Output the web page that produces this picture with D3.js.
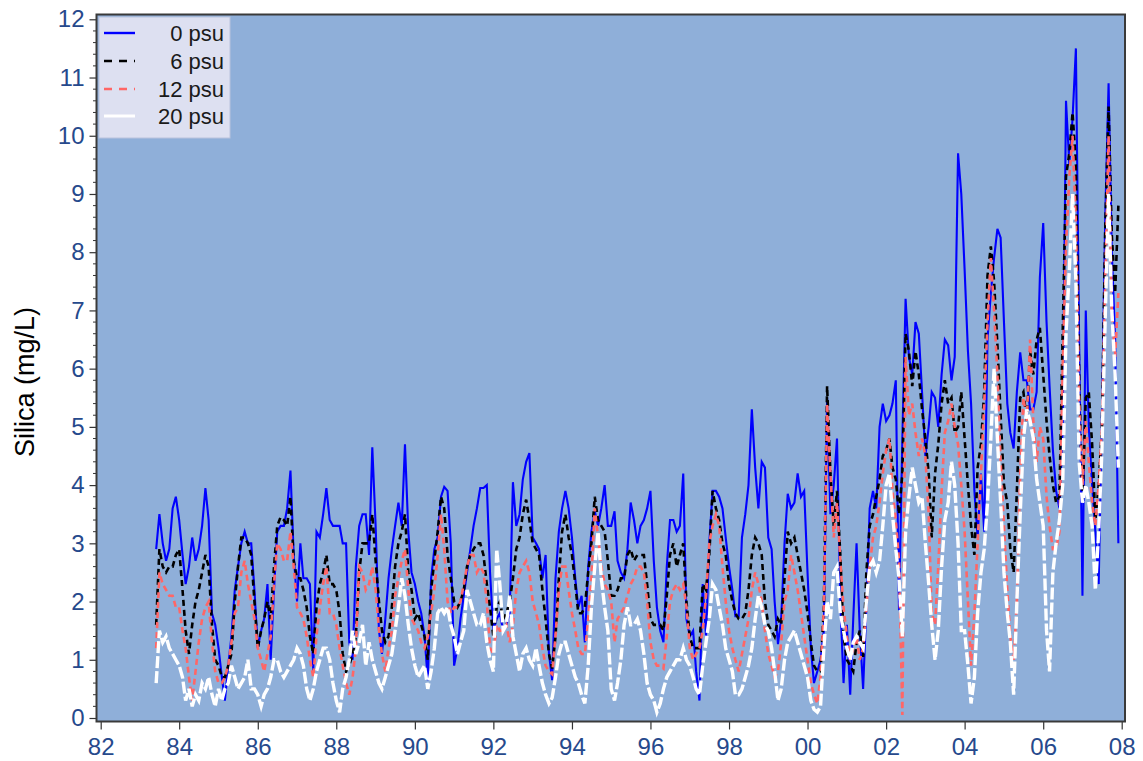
<!DOCTYPE html>
<html>
<head>
<meta charset="utf-8">
<script src="https://cdn.jsdelivr.net/npm/d3@7"></script>
<style>
  html, body { margin: 0; padding: 0; background: #ffffff; }
  svg { display: block; font-family: "Liberation Sans", Arial, sans-serif; }
</style>
</head>
<body>
<svg id="chart" width="1143" height="761"></svg>
<script>
// Monthly silica concentrations (mg/L), June 1983 through December 2007,
// for four salinity levels.
const startMonth = [1983, 5];   // year, zero-based month (June)

const psu0 = [
  2.9, 3.5, 3.0, 2.7, 2.9, 3.6, 3.8,
  3.4, 2.8, 2.3, 2.6, 3.1, 2.7, 2.9, 3.3, 3.95, 3.4, 1.8, 1.6,
  1.2, 0.7, 0.3, 0.9, 1.4, 2.2, 2.6, 3.0, 3.2, 3.0, 3.0, 2.2,
  1.2, 1.5, 1.7, 2.3, 1.0, 2.2, 3.2, 3.3, 3.3, 3.6, 4.25, 2.8,
  2.0, 3.0, 2.4, 2.4, 2.3, 0.8, 3.2, 3.1, 3.5, 3.95, 3.4, 3.3,
  3.3, 3.3, 3.0, 3.0, 1.3, 1.0, 2.6, 3.3, 3.5, 3.5, 2.8, 4.65,
  3.3, 1.5, 1.1, 1.7, 2.4, 2.9, 3.3, 3.7, 3.3, 4.7, 3.2, 2.5,
  2.3, 2.0, 1.8, 1.4, 0.65, 2.4, 2.9, 3.1, 3.8, 3.97, 3.9, 3.0,
  0.9, 1.2, 1.7, 2.1, 2.5, 2.9, 3.3, 3.6, 3.95, 3.95, 4.0, 2.5,
  1.5, 1.7, 1.8, 1.5, 1.6, 1.8, 4.05, 3.3, 3.5, 4.1, 4.4, 4.55,
  3.1, 3.0, 2.9, 2.4, 2.8, 1.1, 0.65, 2.4, 3.2, 3.6, 3.9, 3.6,
  3.1, 2.4, 1.9, 2.1, 1.3, 2.6, 3.2, 3.55, 3.3, 3.6, 4.0, 3.3,
  3.3, 3.55, 2.7, 2.5, 2.4, 2.9, 3.7, 3.4, 3.0, 3.3, 3.4, 3.6,
  3.9, 2.7, 1.9, 1.5, 1.3, 2.6, 3.4, 3.4, 3.2, 3.3, 4.2, 1.7,
  1.4, 1.5, 0.8, 0.3, 2.3, 1.4, 3.0, 3.9, 3.9, 3.8, 3.6, 3.1,
  2.6, 2.2, 1.75, 1.75, 3.1, 3.5, 4.0, 5.3, 4.3, 3.6, 4.4, 4.3,
  3.1, 2.9, 2.0, 1.27, 1.7, 3.0, 3.85, 3.6, 3.7, 4.2, 3.8, 3.9,
  2.5, 1.2, 0.6, 0.8, 1.0, 1.5, 5.5, 3.5, 4.0, 4.8, 2.0, 0.6,
  1.6, 0.4, 1.7, 3.0, 1.5, 0.5, 1.9, 3.6, 3.9, 3.6, 5.0, 5.4,
  5.1, 5.2, 5.4, 5.8, 1.85, 4.8, 7.2, 6.2, 5.9, 6.8, 6.6, 5.6,
  4.5, 5.0, 5.6, 5.5, 5.0, 5.9, 6.5, 6.4, 5.8, 6.2, 9.7, 9.0,
  7.7, 6.3, 5.4, 3.9, 3.1, 4.2, 3.2, 6.5, 7.3, 7.9, 8.4, 8.25,
  6.8, 5.4, 4.9, 4.63, 5.6, 6.28, 5.8, 5.8, 5.3, 5.3, 5.6, 7.57,
  8.5, 6.8, 5.7, 4.6, 3.9, 3.6, 5.0, 10.6, 9.5, 10.3, 11.5, 6.5,
  2.1, 7.0, 5.0, 4.0, 3.2, 2.3, 5.2, 8.6, 10.9, 8.0, 6.5, 3.0
];

const psu6 = [
  1.6, 2.9, 2.6, 2.5, 2.6, 2.6, 2.8,
  2.9, 2.2, 1.5, 1.1, 1.6, 2.0, 2.2, 2.5, 2.8, 2.6, 1.6, 1.0,
  0.9, 0.7, 0.7, 0.9, 1.1, 2.0, 2.6, 3.1, 3.1, 3.0, 2.8, 2.0,
  1.2, 1.5, 1.7, 2.0, 1.7, 2.6, 3.3, 3.45, 3.4, 3.3, 3.8, 2.7,
  2.4, 2.4, 2.2, 1.9, 1.4, 1.1, 1.9, 2.3, 2.5, 2.8, 2.3, 2.3,
  2.2, 1.8, 1.1, 0.8, 0.9, 1.1, 1.4, 2.5, 3.0, 3.0, 3.0, 3.5,
  2.7, 2.0, 1.5, 1.3, 1.4, 1.9, 2.6, 3.0, 3.2, 3.5, 2.5, 2.2,
  1.7, 1.8, 1.6, 1.4, 1.0, 2.2, 2.7, 3.2, 3.8, 3.6, 2.8, 2.4,
  2.0, 1.9, 2.0, 2.2, 2.6, 2.8, 2.9, 3.0, 3.0, 2.8, 2.3, 1.9,
  1.4, 1.9, 2.0, 1.7, 1.8, 2.0, 2.4, 2.9, 3.1, 3.5, 3.75, 3.4,
  3.0, 2.9, 2.8, 2.2, 1.7, 1.1, 0.85, 1.4, 2.4, 3.2, 3.5, 3.1,
  2.8, 2.3, 1.8, 1.8, 1.9, 2.5, 3.0, 3.8, 3.4, 3.3, 3.2, 2.7,
  2.1, 2.1, 2.2, 2.4, 2.4, 2.8, 2.9, 2.7, 2.8, 2.8, 2.8, 2.3,
  1.7, 1.6, 1.6, 1.6, 1.5, 2.1, 2.8, 3.0, 2.6, 2.8, 3.0, 2.0,
  1.4, 1.2, 1.2, 1.2, 2.3, 2.2, 2.8, 3.9, 3.6, 3.4, 3.0, 2.8,
  2.3, 2.0, 1.8, 1.7, 1.7, 1.8, 2.2, 2.8, 3.1, 3.0, 2.8, 2.0,
  1.6, 1.5, 1.4, 1.7, 1.6, 2.4, 3.2, 3.0, 3.1, 2.8, 2.5, 2.2,
  1.8, 1.3, 0.9, 0.8, 0.8, 1.9, 5.7, 4.2, 3.3, 3.9, 2.8, 1.4,
  1.0, 0.9, 0.8, 1.3, 1.5, 1.05, 2.5, 3.3, 3.5, 3.8, 4.1, 4.5,
  4.6, 4.8, 4.3, 4.1, 3.5, 4.2, 6.6, 6.3, 5.7, 6.3, 5.9, 5.3,
  4.8, 4.2, 3.1, 4.2, 4.7, 5.4, 5.8, 5.4, 5.5, 4.9, 5.0, 5.6,
  4.8, 4.0, 3.3, 2.8, 4.3, 4.7, 5.6, 7.6, 8.1, 7.5, 6.4, 5.2,
  4.0, 3.7, 2.9, 2.5, 3.9, 5.5, 5.6, 5.1, 6.3, 5.9, 6.5, 6.7,
  5.9, 5.1, 4.5, 4.0, 3.7, 3.8, 6.6, 9.3, 9.7, 10.4, 9.5, 5.9,
  3.7, 5.5, 5.6, 4.7, 3.4, 4.0, 5.0, 8.4, 10.5, 8.3, 7.3, 8.8
];

const psu12 = [
  1.2, 2.5, 2.3, 2.2, 2.1, 2.1, 1.9,
  1.9, 1.5, 1.2, 0.7, 0.3, 0.8, 1.3, 1.7, 1.9, 2.0, 1.3, 0.8,
  0.6, 0.6, 0.7, 0.9, 1.3, 1.8, 1.9, 2.5, 2.7, 2.3, 2.0, 1.7,
  1.2, 1.0, 0.8, 1.1, 1.4, 2.3, 3.0, 2.9, 2.7, 2.7, 3.2, 2.6,
  1.9, 1.8, 1.7, 1.4, 1.0, 0.7, 1.4, 1.9, 2.3, 2.6, 1.8, 1.8,
  1.6, 1.2, 0.9, 0.6, 0.4, 0.7, 1.2, 2.6, 2.5, 2.2, 2.3, 2.6,
  2.2, 1.5, 1.1, 0.8, 1.2, 1.5, 2.1, 2.4, 2.7, 2.9, 2.2, 1.7,
  1.6, 1.5, 1.3, 1.2, 1.4, 1.8, 2.2, 2.8, 3.5, 2.9, 2.0, 1.8,
  1.9, 1.9, 2.0, 2.3, 2.6, 2.8, 2.8, 2.5, 2.6, 2.5, 2.0, 1.2,
  1.1, 1.6, 1.5, 1.5, 1.6, 1.3, 1.6, 2.2, 2.5, 2.6, 2.7, 2.5,
  2.0, 1.8, 1.6, 1.2, 0.9, 0.8, 0.75, 1.4, 2.2, 2.6, 2.6, 2.2,
  1.8, 1.5, 1.2, 1.1, 1.1, 1.7, 2.4, 3.6, 3.1, 2.6, 2.3, 2.2,
  2.0, 1.3, 1.7, 1.8, 1.9, 2.1, 2.3, 2.4, 2.6, 2.6, 2.5, 2.0,
  1.3, 1.0, 0.9, 0.9, 0.85, 1.4, 2.0, 2.2, 2.3, 2.2, 2.3, 1.9,
  1.2, 1.0, 1.1, 1.2, 1.5, 2.1, 3.0, 3.3, 3.5, 3.3, 2.6, 2.0,
  1.5, 1.2, 1.0, 0.8, 1.1, 1.4, 1.7, 2.2, 2.5, 2.3, 2.0, 1.5,
  1.1, 0.9, 0.7, 0.8, 1.3, 2.0, 2.2, 2.8, 2.5, 2.2, 1.8, 1.4,
  1.0, 0.6, 0.4, 0.25, 0.7, 1.9, 5.4, 4.2, 3.1, 3.7, 2.7, 1.9,
  1.4, 1.0, 1.2, 1.4, 1.0, 1.2, 1.9, 2.6, 3.1, 3.3, 3.7, 4.2,
  4.6, 4.8, 3.9, 3.4, 2.7, 0.05, 6.2, 5.2, 5.4, 4.9, 4.5, 4.8,
  4.5, 3.5, 1.8, 1.6, 2.6, 3.9, 4.9, 5.1, 5.4, 5.0, 4.7, 4.0,
  3.2, 2.0, 0.9, 1.8, 3.0, 4.2, 5.4, 6.8, 7.9, 7.0, 5.9, 4.4,
  3.3, 2.2, 1.4, 1.0, 2.0, 4.2, 5.5, 5.1, 6.5, 5.1, 4.4, 5.0,
  4.8, 3.8, 3.3, 2.9, 2.9, 3.2, 6.0, 8.1, 9.3, 10.0, 8.5, 5.5,
  4.0, 5.1, 4.4, 3.7, 3.3, 4.0, 5.0, 7.5, 10.0, 7.0, 6.2, 7.3
];

const psu20 = [
  0.6, 1.5, 1.3, 1.4, 1.2, 1.1, 1.0,
  0.9, 0.7, 0.3, 0.5, 0.2, 0.4, 0.3, 0.6, 0.5, 0.7, 0.4, 0.2,
  0.5, 0.3, 0.5, 0.6, 0.9, 0.7, 0.5, 0.6, 0.7, 1.0, 0.5, 0.5,
  0.4, 0.2, 0.4, 0.5, 0.7, 1.0, 1.0, 0.8, 0.7, 0.8, 0.9, 1.0,
  1.2, 1.1, 0.9, 0.5, 0.3, 0.5, 0.8, 1.0, 1.2, 1.2, 1.0, 0.6,
  0.3, 0.1, 0.5, 0.7, 1.0, 1.5, 1.1, 1.3, 1.6, 0.9, 1.3, 1.0,
  0.8, 0.6, 0.5, 0.7, 0.9, 1.1, 1.5, 1.9, 2.4, 2.1, 1.6, 1.2,
  0.9, 0.7, 0.8, 0.9, 0.5, 0.8, 1.2, 1.8, 1.9, 1.8, 1.9, 1.6,
  1.4, 1.1, 1.3, 1.5, 2.2, 2.0, 1.8, 1.6, 1.6, 1.8, 1.3, 1.0,
  0.8, 2.9, 2.3, 1.5, 1.6, 2.1, 1.4, 1.1, 0.8, 1.1, 1.2, 1.0,
  0.9, 1.2, 0.9, 0.6, 0.4, 0.25, 0.35, 0.7, 1.1, 1.3, 1.3, 1.1,
  0.9, 0.7, 0.6, 0.4, 0.25, 0.9, 1.9, 2.6, 3.2, 2.4, 1.9, 1.5,
  0.5, 0.3, 0.6, 1.0, 1.6, 1.9, 1.6, 1.6, 1.7, 1.5, 1.1, 0.6,
  0.4, 0.3, 0.1, 0.25, 0.5, 0.7, 0.8, 0.9, 1.0, 1.0, 1.2, 1.0,
  0.9, 0.7, 0.5, 0.4, 0.9, 1.3, 1.7, 2.3, 2.2, 1.9, 1.6, 1.2,
  1.0, 0.8, 0.4, 0.4, 0.5, 0.7, 0.9, 1.2, 1.7, 2.1, 1.9, 1.6,
  1.5, 1.2, 0.8, 0.3, 0.5, 1.0, 1.3, 1.4, 1.5, 1.3, 1.1, 0.9,
  0.7, 0.3, 0.15, 0.1, 0.2, 1.2, 2.0, 1.7, 2.5, 2.6, 1.8, 1.5,
  1.2, 1.0, 1.3, 1.4, 1.3, 1.2, 2.0, 2.6, 2.7, 2.5, 2.7, 3.3,
  4.0, 4.2, 3.5, 2.9, 2.4, 1.4, 3.2, 3.8, 4.3, 4.0, 3.7, 3.8,
  3.0, 2.3, 1.6, 1.0, 1.5, 2.6, 3.4, 3.7, 4.4, 4.0, 3.0, 1.5,
  1.5, 0.9, 0.25, 0.7, 1.8, 2.5, 2.9, 3.7, 4.8, 6.0, 4.8, 3.7,
  2.5, 1.8, 1.3, 0.4, 2.0, 3.5, 4.8, 5.3, 5.1, 4.8, 4.1, 3.7,
  3.3, 1.5, 0.8, 2.5, 3.0, 3.4, 4.0, 6.6, 7.7, 9.0, 7.5, 4.4,
  3.7, 4.0, 3.7, 3.3, 2.2, 3.2, 4.6, 6.9, 9.0, 7.0, 5.9, 4.3
];

const seriesNames = ["0 psu", "6 psu", "12 psu", "20 psu"];
const yTickValues = [0, 1, 2, 3, 4, 5, 6, 7, 8, 9, 10, 11, 12];
const yTitle = "Silica  (mg/L)";

// ---- layout ----
const svg = d3.select("#chart");
const frame = { left: 96.5, right: 1125, top: 14.5, bottom: 721.5 };
const plotBg = "#8fafd9";
const tickColor = "#26498c";

const x = d3.scaleTime()
  .domain([new Date(1982, 0, 1), new Date(2008, 0, 1)])
  .range([100.7, 1121.7]);
const y = d3.scaleLinear().domain([0, 12]).range([718, 19.3]);

const dates = psu0.map((_, i) => new Date(startMonth[0], startMonth[1] + i, 1));

svg.append("rect")
  .attr("x", frame.left).attr("y", frame.top)
  .attr("width", frame.right - frame.left).attr("height", frame.bottom - frame.top)
  .attr("fill", plotBg);

svg.append("defs").append("clipPath").attr("id", "plotClip")
  .append("rect")
  .attr("x", frame.left).attr("y", frame.top)
  .attr("width", frame.right - frame.left).attr("height", frame.bottom - frame.top);

// ---- series ----
const styles = [
  { values: psu0,  color: "#0000ff", width: 2.1, dash: null },
  { values: psu6,  color: "#000000", width: 2.6, dash: "6,4" },
  { values: psu12, color: "#ff6666", width: 2.6, dash: "6,4" },
  { values: psu20, color: "#ffffff", width: 3.4, dash: "12,3" }
];

const line = d3.line()
  .x((d, i) => x(dates[i]))
  .y(d => y(d));

const g = svg.append("g").attr("clip-path", "url(#plotClip)");
styles.forEach(s => {
  g.append("path")
    .datum(s.values)
    .attr("d", line)
    .attr("fill", "none")
    .attr("stroke", s.color)
    .attr("stroke-width", s.width)
    .attr("stroke-dasharray", s.dash)
    .attr("stroke-linejoin", "miter");
});

// ---- axes ----
const yAxis = d3.axisLeft(y).tickValues(yTickValues).tickSize(7).tickPadding(5);
const yG = svg.append("g").attr("transform", `translate(${frame.left},0)`).call(yAxis);
yG.select(".domain").remove();
yG.selectAll(".tick line").attr("stroke", "#333").attr("stroke-width", 1.2);
yG.selectAll(".tick text")
  .attr("fill", tickColor)
  .style("font-size", "24px");

// minor ticks every 0.2
const minorY = d3.range(0, 12.001, 0.2).filter(v => Math.abs(v - Math.round(v)) > 1e-6);
svg.append("g").selectAll("line").data(minorY).join("line")
  .attr("x1", frame.left - 3.5).attr("x2", frame.left)
  .attr("y1", d => y(d)).attr("y2", d => y(d))
  .attr("stroke", "#333").attr("stroke-width", 1);

const xAxis = d3.axisBottom(x)
  .ticks(d3.timeYear.every(2))
  .tickFormat(d3.timeFormat("%y"))
  .tickSize(8).tickPadding(8);
const xG = svg.append("g").attr("transform", `translate(0,${frame.bottom})`).call(xAxis);
xG.select(".domain").remove();
xG.selectAll(".tick line").attr("stroke", "#333").attr("stroke-width", 1.2);
xG.selectAll(".tick text")
  .attr("fill", tickColor)
  .style("font-size", "24px");

// frame
svg.append("rect")
  .attr("x", frame.left).attr("y", frame.top)
  .attr("width", frame.right - frame.left).attr("height", frame.bottom - frame.top)
  .attr("fill", "none")
  .attr("stroke", "#3a3a3a")
  .attr("stroke-width", 2);

// y title
svg.append("text")
  .attr("transform", "translate(34,382) rotate(-90)")
  .attr("text-anchor", "middle")
  .attr("fill", "#000")
  .style("font-size", "27px")
  .text(yTitle);

// ---- legend ----
const legend = svg.append("g");
legend.append("rect")
  .attr("x", 99).attr("y", 17)
  .attr("width", 131).attr("height", 121)
  .attr("fill", "#dde0f1")
  .attr("stroke", "#b9c3dd").attr("stroke-width", 1);

const rowY = [33, 61, 89, 116];
styles.forEach((s, i) => {
  legend.append("line")
    .attr("x1", 104).attr("x2", 135)
    .attr("y1", rowY[i]).attr("y2", rowY[i])
    .attr("stroke", s.color)
    .attr("stroke-width", s.color === "#ffffff" ? 3 : 2.4)
    .attr("stroke-dasharray", s.color === "#ffffff" ? null : s.dash ? "8,7" : null);
  legend.append("text")
    .attr("x", 224).attr("y", rowY[i] + 8)
    .attr("text-anchor", "end")
    .attr("fill", "#1a1a1a")
    .style("font-size", "22px")
    .text(seriesNames[i]);
});
</script>
</body>
</html>
